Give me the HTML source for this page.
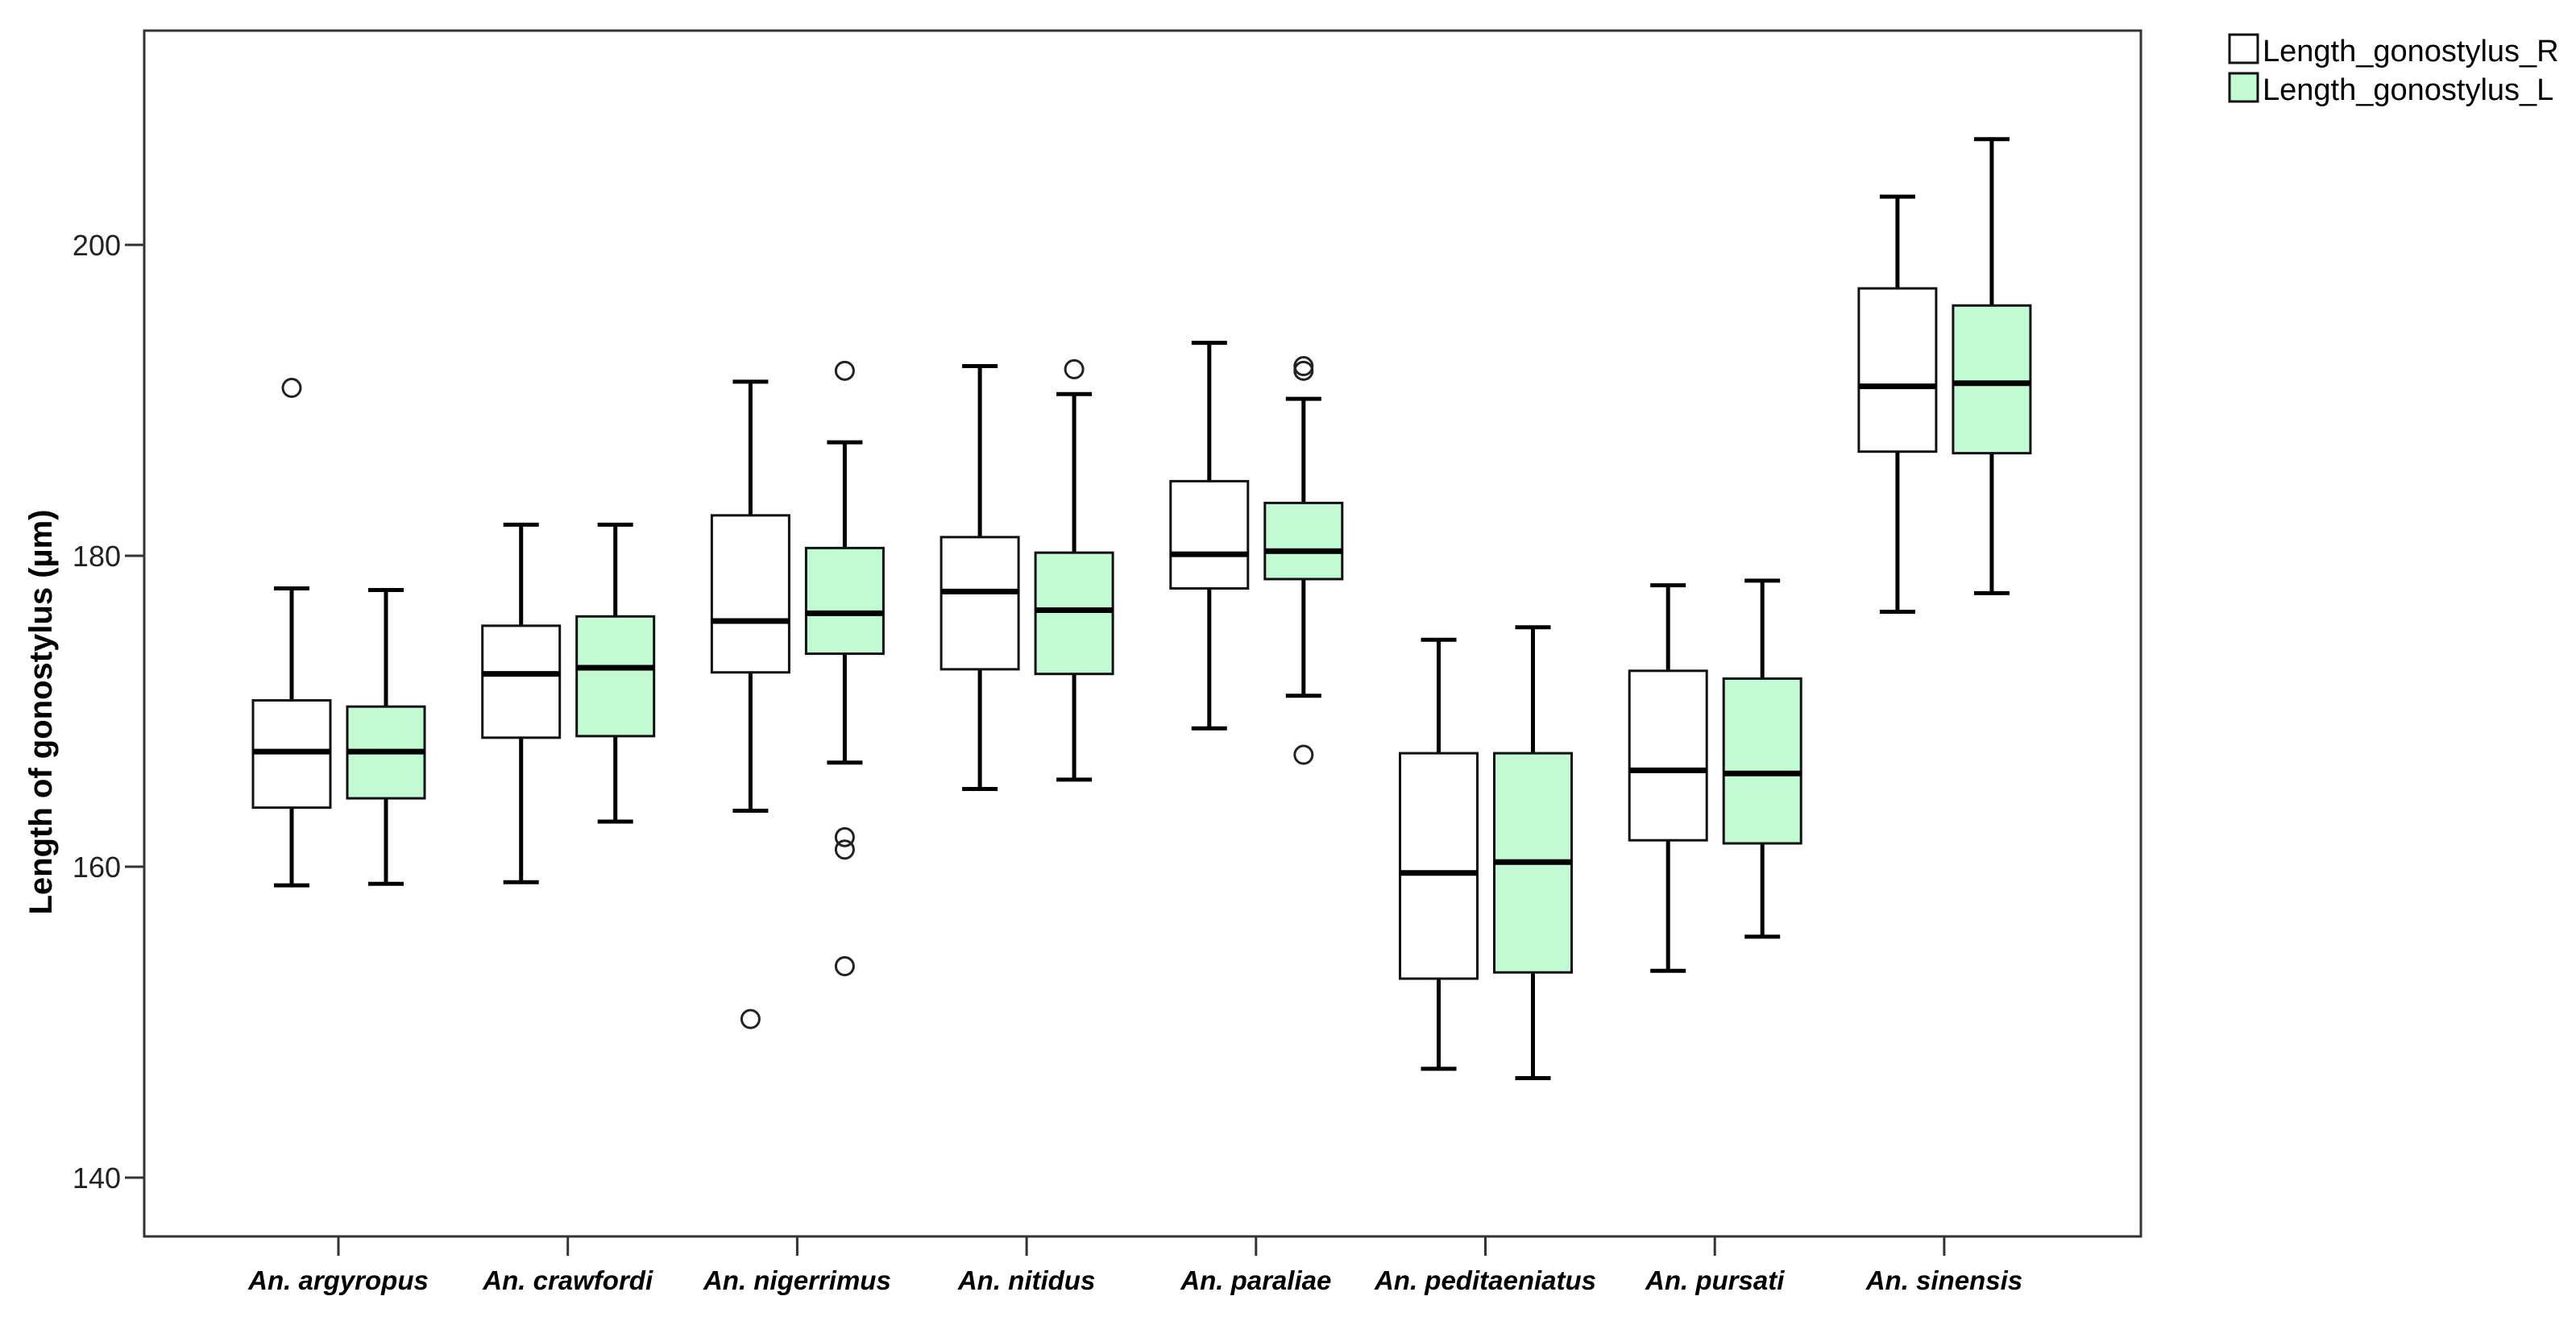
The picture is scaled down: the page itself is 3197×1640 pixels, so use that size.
<!DOCTYPE html>
<html><head><meta charset="utf-8"><style>
html,body{margin:0;padding:0;background:#fff;}
svg{display:block;}
text{font-family:"Liberation Sans",Arial,sans-serif;}
</style></head><body>
<svg id="chart" width="3197" height="1640" viewBox="0 0 3197 1640" xmlns="http://www.w3.org/2000/svg">
<rect x="0" y="0" width="3197" height="1640" fill="#fff"/>
<rect x="179" y="38" width="2478" height="1497" fill="none" stroke="#333" stroke-width="3"/>
<text transform="translate(64,884) rotate(-90)" text-anchor="middle" font-size="40" font-weight="bold">Length of gonostylus (µm)</text>
<g id="yaxis"></g>
<g id="xaxis"></g>
<g id="boxes"></g>
<g>
<g>
<rect x="2767" y="43" width="35" height="35" fill="#fff" stroke="#111" stroke-width="3"/>
<text x="2808" y="76" font-size="38">Length_gonostylus_R</text></g>
<g>
<rect x="2767" y="91" width="35" height="35" fill="#c2fad4" stroke="#111" stroke-width="3"/>
<text x="2808" y="124" font-size="38">Length_gonostylus_L</text></g>
</g>
</svg>
<script>
const categories = ["An. argyropus","An. crawfordi","An. nigerrimus","An. nitidus","An. paraliae","An. peditaeniatus","An. pursati","An. sinensis"];
// [min, Q1, median, Q3, max]
const seriesR = [
 [158.8,163.8,167.4,170.7,177.9],
 [159.0,168.3,172.4,175.5,182.0],
 [163.6,172.5,175.8,182.6,191.2],
 [165.0,172.7,177.7,181.2,192.2],
 [168.9,177.9,180.1,184.8,193.7],
 [147.0,152.8,159.6,167.3,174.6],
 [153.3,161.7,166.2,172.6,178.1],
 [176.4,186.7,190.9,197.2,203.1]
];
const seriesL = [
 [158.9,164.4,167.4,170.3,177.8],
 [162.9,168.4,172.8,176.1,182.0],
 [166.7,173.7,176.3,180.5,187.3],
 [165.6,172.4,176.5,180.2,190.4],
 [171.0,178.5,180.3,183.4,190.1],
 [146.4,153.2,160.3,167.3,175.4],
 [155.5,161.5,166.0,172.1,178.4],
 [177.6,186.6,191.1,196.1,206.8]
];
const outliersR = [[190.8],[],[150.2],[],[],[],[],[]];
const outliersL = [[],[],[191.9,161.9,161.1,153.6],[192.0],[192.2,191.9,167.2],[],[],[]];
const yTicks = [140,160,180,200];

const NS="http://www.w3.org/2000/svg";
function y(v){return 304+(200-v)*19.3;}
function xc(i){return 420+i*284.7;}
function mk(tag,attrs,parent){const e=document.createElementNS(NS,tag);for(const k in attrs)e.setAttribute(k,attrs[k]);parent.appendChild(e);return e;}
const ya=document.getElementById('yaxis'), xa=document.getElementById('xaxis'), bx=document.getElementById('boxes');
yTicks.forEach(t=>{
 const l=mk('line',{x1:155,x2:179,y1:y(t),y2:y(t),stroke:'#333','stroke-width':3},ya);
 
 
 const tx=mk('text',{x:150,y:y(t)+13,'text-anchor':'end','font-size':36,fill:'#222'},ya);
 tx.textContent=t;
 
 
});
categories.forEach((c,i)=>{
 const l=mk('line',{x1:xc(i),x2:xc(i),y1:1535,y2:1559,stroke:'#333','stroke-width':3},xa);
 
 
 const tx=mk('text',{x:xc(i),y:1601,'text-anchor':'middle','font-size':33,'font-weight':'bold','font-style':'italic'},xa);
 tx.textContent=c;
 
 
});
function drawBox(cx,s,fill,outs,name){
 const g=mk('g',{},bx);
 
 
 const [mn,q1,md,q3,mx]=s;
 mk('line',{x1:cx,x2:cx,y1:y(mx),y2:y(q3),stroke:'#000','stroke-width':5},g);
 mk('line',{x1:cx,x2:cx,y1:y(q1),y2:y(mn),stroke:'#000','stroke-width':5},g);
 mk('line',{x1:cx-22,x2:cx+22,y1:y(mx),y2:y(mx),stroke:'#000','stroke-width':5},g);
 mk('line',{x1:cx-22,x2:cx+22,y1:y(mn),y2:y(mn),stroke:'#000','stroke-width':5},g);
 mk('rect',{x:cx-48,y:y(q3),width:96,height:y(q1)-y(q3),fill:fill,stroke:'#111','stroke-width':3},g);
 mk('line',{x1:cx-48,x2:cx+48,y1:y(md),y2:y(md),stroke:'#000','stroke-width':7},g);
 outs.forEach(o=>{
  const c=mk('circle',{cx:cx,cy:y(o),r:11,fill:'none',stroke:'#222','stroke-width':3},g);
  
  
 });
}
categories.forEach((c,i)=>{
 drawBox(xc(i)-58,seriesR[i],'#fff',outliersR[i],'box-r');
 drawBox(xc(i)+59,seriesL[i],'#c2fad4',outliersL[i],'box-l');
});
</script>
</body></html>
